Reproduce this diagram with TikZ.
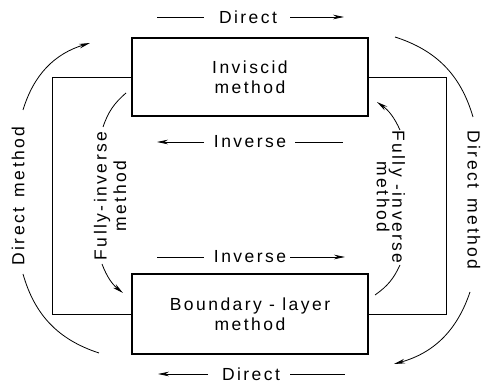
\documentclass[tikz,border=0pt]{standalone}
\usepackage{fontspec}
\setmainfont{Liberation Sans}[LetterSpace=14]
\usetikzlibrary{arrows.meta}
\begin{document}
\begin{tikzpicture}[x=1pt,y=1pt,
  every node/.style={font=\fontsize{17.5}{19.5}\selectfont},
  methodbox/.style={draw, line width=1.7pt, minimum width=236pt, minimum height=78pt, align=center, inner sep=0pt},
  lbl/.style={inner sep=0pt, align=center},
  wire/.style={line width=0.8pt},
  tip/.style={-{Stealth[length=11pt,width=4.6pt]}}]
\useasboundingbox (0,0) rectangle (483,386);

% the two solvers
\node[methodbox] (inv) at (250,309) {Inviscid\\method};
\node[methodbox, minimum height=80pt] (bl) at (250,72) {Boundary - layer\\method};

% frame linking the two boxes
\coordinate (fl) at (52,0);
\coordinate (fr) at (446,0);
\draw[wire] (inv.west) -- (inv.west -| fl) -- (bl.west -| fl) -- (bl.west);
\draw[wire] (inv.east) -- (inv.east -| fr) -- (bl.east -| fr) -- (bl.east);

% horizontal labels with their arrows
\node[lbl] (dtop) at (248,369) {Direct};
\coordinate (dt1) at (157,369); \coordinate (dt2) at (204,369);
\coordinate (dt3) at (290,369); \coordinate (dt4) at (344,369);
\draw[wire] (dt1) -- (dt2);
\draw[wire,tip] (dt3) -- (dt4);

\node[lbl] (ivu) at (250,244) {Inverse};
\coordinate (iu1) at (157,244); \coordinate (iu2) at (204,244);
\coordinate (iu3) at (295,244); \coordinate (iu4) at (343,244);
\draw[wire,tip] (iu2) -- (iu1);
\draw[wire] (iu3) -- (iu4);

\node[lbl] (ivl) at (250,129) {Inverse};
\coordinate (il1) at (157,129); \coordinate (il2) at (204,129);
\coordinate (il3) at (290,129); \coordinate (il4) at (345,129);
\draw[wire] (il1) -- (il2);
\draw[wire,tip] (il3) -- (il4);

\node[lbl] (dbot) at (251,12) {Direct};
\coordinate (db1) at (158,12); \coordinate (db2) at (208,12);
\coordinate (db3) at (290,12); \coordinate (db4) at (345,12);
\draw[wire,tip] (db2) -- (db1);
\draw[wire] (db3) -- (db4);

% vertical labels
\node[lbl, rotate=90] (dml) at (18,190) {Direct\hspace{0.6em}method};
\node[lbl, rotate=-90] (dmr) at (474,186) {Direct\hspace{0.6em}method};
\node[lbl, rotate=90] (fil) at (110,190) {Fully-inverse\\method};
\node[lbl, rotate=-90] (fir) at (391,189) {Fully -inverse\\[-4pt]method};

% outer arcs
\coordinate (o1) at (23,276); \coordinate (o2) at (90,343);
\coordinate (o3) at (395,349); \coordinate (o4) at (473,269);
\coordinate (o5) at (23,112); \coordinate (o6) at (99,33);
\coordinate (o7) at (470,94); \coordinate (o8) at (394,22);
\draw[wire,tip] (o1) to[bend left=28] (o2);
\draw[wire] (o3) to[bend left=28] (o4);
\draw[wire] (o5) to[bend right=28] (o6);
\draw[wire,tip] (o7) to[bend left=28] (o8);

% inner arcs
\coordinate (n1) at (126,293); \coordinate (n2) at (103,259);
\coordinate (n3) at (102,122); \coordinate (n4) at (123,93);
\coordinate (n5) at (400,256); \coordinate (n6) at (377,284);
\coordinate (n7) at (400,121); \coordinate (n8) at (375,91);
\draw[wire] (n1) to[bend right=15] (n2);
\draw[wire,tip] (n3) to[bend right=15] (n4);
\draw[wire,tip] (n5) to[bend right=15] (n6);
\draw[wire] (n7) to[bend left=15] (n8);
\end{tikzpicture}
\end{document}
